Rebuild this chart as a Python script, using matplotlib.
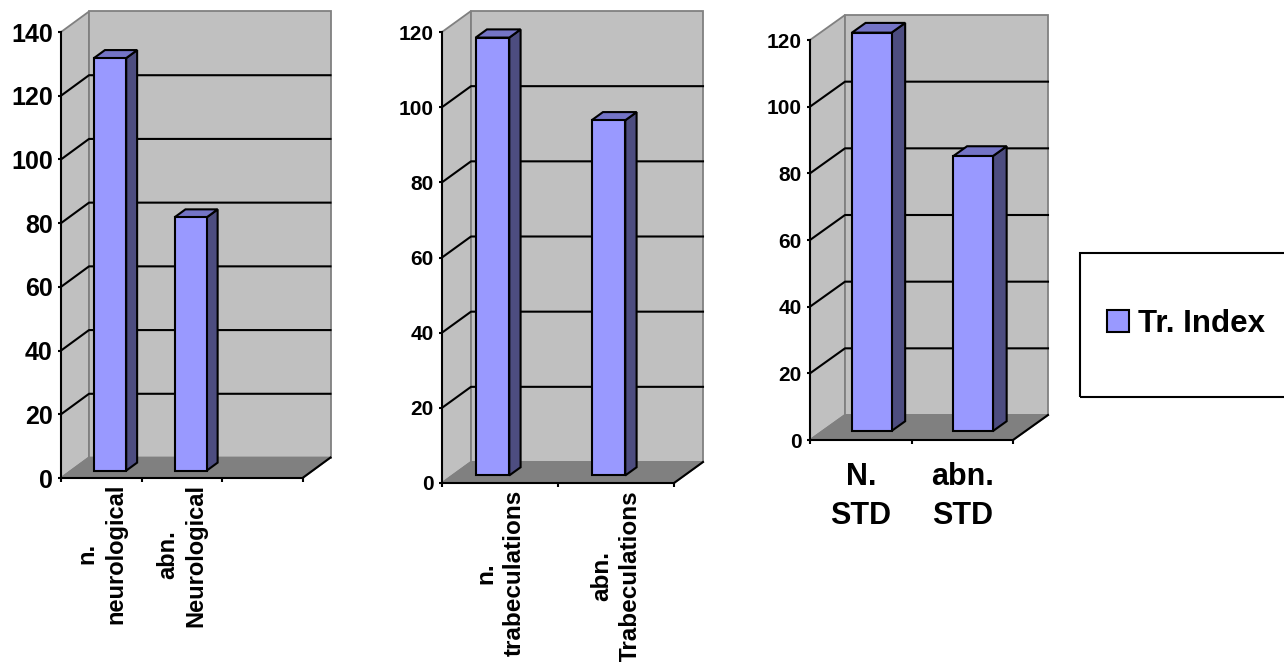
import matplotlib
matplotlib.use('Agg')
import matplotlib.pyplot as plt
from matplotlib.patches import Polygon, Rectangle, Patch

plt.rcParams['font.family'] = ['Liberation Sans', 'DejaVu Sans']
plt.rcParams['font.weight'] = 'bold'

W, H = 1284, 662

# ── data ──
series_name = 'Tr. Index'
neuro_cats = ['n.\nneurological', 'abn.\nNeurological', '']
neuro_vals = [129.5, 79.5]
trab_cats = ['n.\ntrabeculations', 'abn.\nTrabeculations']
trab_vals = [116.5, 94.5]
std_cats = ['N.\nSTD', 'abn.\nSTD']
std_vals = [119.5, 82.5]

FRONT = '#9999FF'
SIDE = '#4D4D80'
TOP = '#7474C6'
WALL = '#C0C0C0'
FLOOR = '#808080'
EDGE = '#808080'

# bar placement in depth (fraction of floor depth)
D0, BD = 0.36, 0.39


def panel(fig, x0, y0, slot, unit, dx, dy, cats, vals, ymax, shift, bar_w,
          ytick_fs, xlab_fs, rot, xpad, lsp):
    """Excel-style 3D column chart: x0/y0 = pixel of the front origin,
    slot = px per category, unit = px per value unit, dx/dy = wall depth in px."""
    ncat = len(cats)
    ox, oy = dx / slot, dy / unit
    wpx, hpx = (ncat + ox) * slot, (ymax + oy) * unit
    ax = fig.add_axes([x0 / W, 1 - y0 / H, wpx / W, hpx / H])
    ax.set_xlim(0, ncat + ox)
    ax.set_ylim(0, ymax + oy)
    ax.patch.set_visible(False)

    # walls and floor
    ax.add_patch(Polygon([(0, 0), (ox, oy), (ox, ymax + oy), (0, ymax)],
                         fc=WALL, ec=EDGE, lw=1.3, zorder=0, clip_on=False))
    ax.add_patch(Rectangle((ox, oy), ncat, ymax, fc=WALL, ec=EDGE, lw=1.3,
                           zorder=0, clip_on=False))
    ax.add_patch(Polygon([(0, 0), (ncat, 0), (ncat + ox, oy), (ox, oy)],
                         fc=FLOOR, ec=EDGE, lw=1.3, zorder=1, clip_on=False))

    ticks = list(range(0, ymax + 1, 20))
    for v in ticks[1:-1]:
        ax.plot([0, ox, ncat + ox], [v, v + oy, v + oy], color='black',
                lw=1.5, zorder=1.5, clip_on=False)
    ax.plot([ncat, ncat + ox], [0, oy], color='black', lw=1.5, zorder=2,
            clip_on=False)

    # columns: front face from ax.bar, side/top faces from each bar's geometry
    xs = [i + 0.5 + shift for i in range(len(vals))]
    bars = ax.bar(xs, vals, width=bar_w, bottom=D0 * oy, color=FRONT,
                  ec='black', lw=1.5, zorder=4, clip_on=False)
    px, py = BD * ox, BD * oy
    for b in bars:
        xl, yb = b.get_x(), b.get_y()
        xr, yt = xl + b.get_width(), yb + b.get_height()
        ax.add_patch(Polygon([(xr, yb), (xr + px, yb + py), (xr + px, yt + py), (xr, yt)],
                             fc=SIDE, ec='black', lw=1.5, zorder=3.5, clip_on=False))
        ax.add_patch(Polygon([(xl, yt), (xr, yt), (xr + px, yt + py), (xl + px, yt + py)],
                             fc=TOP, ec='black', lw=1.5, zorder=3.5, clip_on=False))

    # front axes
    for s in ('top', 'right'):
        ax.spines[s].set_visible(False)
    for s in ('left', 'bottom'):
        ax.spines[s].set_linewidth(1.5)
        ax.spines[s].set_zorder(5)
    ax.spines['left'].set_bounds(0, ymax)
    ax.spines['bottom'].set_bounds(0, ncat)

    ax.set_yticks(ticks)
    ax.tick_params(axis='y', length=2.5, width=1.5, pad=3.5, labelsize=ytick_fs)
    ax.set_xticks(range(ncat + 1))
    ax.set_xticklabels([])
    ax.tick_params(axis='x', which='major', length=3, width=1.5)
    ax.set_xticks([i + 0.5 for i in range(ncat)], labels=cats, minor=True)
    ax.tick_params(axis='x', which='minor', length=0, pad=xpad, labelsize=xlab_fs)
    for t in ax.get_xticklabels(minor=True):
        t.set_rotation(rot)
        t.set_multialignment('center')
        t.set_linespacing(lsp)
    return ax


fig = plt.figure(figsize=(W / 100, H / 100), dpi=100)

panel(fig, 61, 478, 80.5, 446 / 140, 28, 20.5, neuro_cats, neuro_vals, 140,
      0.11, 0.40, 18, 17, 90, 4, 1.3)
panel(fig, 442, 483, 116, 451 / 120, 29, 21, trab_cats, trab_vals, 120,
      -0.065, 0.29, 15, 17.5, 90, 5, 1.3)
panel(fig, 810, 440, 101.5, 400 / 120, 35, 25, std_cats, std_vals, 120,
      0.108, 0.39, 15, 22, 0, 15.5, 1.43)

# legend box
fig.add_artist(Rectangle((1080 / W, 1 - 396.7 / H), 230 / W, 144 / H,
                         transform=fig.transFigure, fill=False, ec='black', lw=1.5))
fig.legend(handles=[Patch(fc=FRONT, ec='black', lw=1.5, label=series_name)],
           loc='center left', bbox_to_anchor=(1106.7 / W, 1 - 324 / H),
           frameon=False, fontsize=22.5, handlelength=0.7, handleheight=0.7,
           handletextpad=0.3, borderpad=0, borderaxespad=0)

fig.savefig('out.png', dpi=100)
